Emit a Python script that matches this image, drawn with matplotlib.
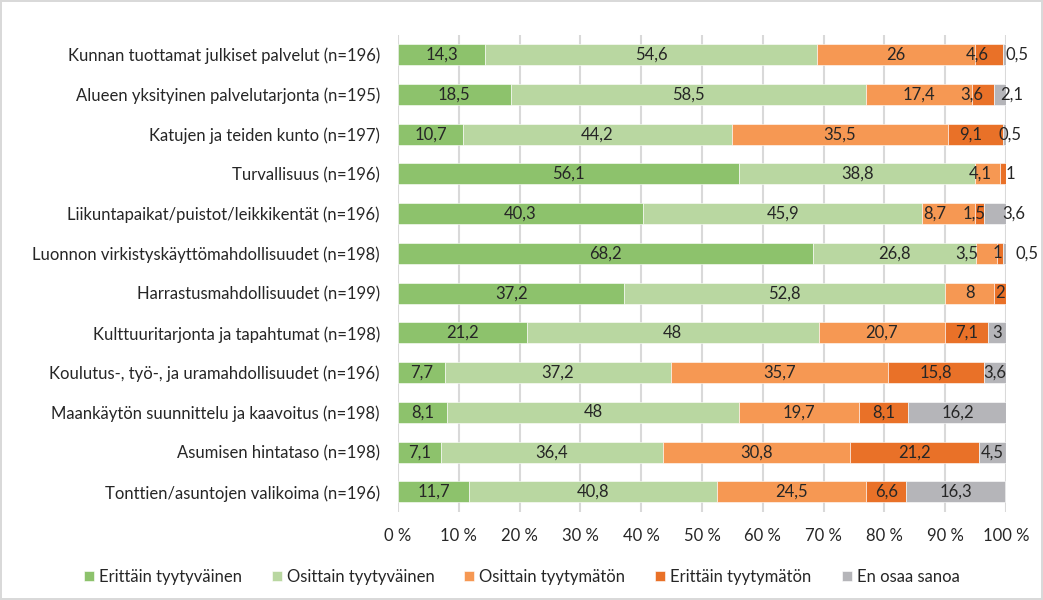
import matplotlib.pyplot as plt
import numpy as np

plt.rcParams["font.family"] = ["Lato", "DejaVu Sans"]

categories = [
    "Kunnan tuottamat julkiset palvelut (n=196)",
    "Alueen yksityinen palvelutarjonta (n=195)",
    "Katujen ja teiden kunto (n=197)",
    "Turvallisuus (n=196)",
    "Liikuntapaikat/puistot/leikkikentät (n=196)",
    "Luonnon virkistyskäyttömahdollisuudet (n=198)",
    "Harrastusmahdollisuudet (n=199)",
    "Kulttuuritarjonta ja tapahtumat (n=198)",
    "Koulutus-, työ-, ja uramahdollisuudet (n=196)",
    "Maankäytön suunnittelu ja kaavoitus (n=198)",
    "Asumisen hintataso (n=198)",
    "Tonttien/asuntojen valikoima (n=196)",
]

series_names = ["Erittäin tyytyväinen", "Osittain tyytyväinen", "Osittain tyytymätön",
                "Erittäin tyytymätön", "En osaa sanoa"]

erittain_tyytyvainen = [14.3, 18.5, 10.7, 56.1, 40.3, 68.2, 37.2, 21.2, 7.7, 8.1, 7.1, 11.7]
osittain_tyytyvainen = [54.6, 58.5, 44.2, 38.8, 45.9, 26.8, 52.8, 48, 37.2, 48, 36.4, 40.8]
osittain_tyytymaton = [26, 17.4, 35.5, 4.1, 8.7, 3.5, 8, 20.7, 35.7, 19.7, 30.8, 24.5]
erittain_tyytymaton = [4.6, 3.6, 9.1, 1, 1.5, 1, 2, 7.1, 15.8, 8.1, 21.2, 6.6]
en_osaa_sanoa = [0.5, 2.1, 0.5, 0, 3.6, 0.5, 0, 3, 3.6, 16.2, 4.5, 16.3]

colors = ["#8dc26c", "#b9d7a1", "#f69853", "#e97128", "#b5b5b9"]

series = [erittain_tyytyvainen, osittain_tyytyvainen, osittain_tyytymaton,
          erittain_tyytymaton, en_osaa_sanoa]

fig = plt.figure(figsize=(10.43, 6), dpi=100)
fig.patch.set_edgecolor("#d9d9d9")
fig.patch.set_linewidth(1.5)
ax = fig.add_axes([0.3816, 0.147, 0.583, 0.795])

y = np.arange(len(categories))
left = np.zeros(len(categories))
label_rows = [[] for _ in categories]
for name, vals, col in zip(series_names, series, colors):
    vals = np.array(vals, dtype=float)
    ax.barh(y, vals, left=left, height=0.53, color=col, edgecolor="white",
            linewidth=0.4, label=name, zorder=3)
    for i, v in enumerate(vals):
        if v > 0:
            txt = f"{v:g}".replace(".", ",")
            label_rows[i].append([left[i] + v / 2, txt])
    left += vals

# spread overlapping labels apart (like Excel does)
char_w = 1.5
for i, labs in enumerate(label_rows):
    for _ in range(50):
        moved = False
        for a, b in zip(labs[:-1], labs[1:]):
            need = (len(a[1]) + len(b[1])) * char_w / 2 + 2.0
            gap = b[0] - a[0]
            if gap < need - 1e-6:
                d = (need - gap) / 2
                a[0] -= d
                b[0] += d
                moved = True
        if not moved:
            break
    for xpos, txt in labs:
        ax.text(xpos, i, txt, ha="center", va="center", fontsize=12,
                color="#262626", zorder=4)

ax.set_xlim(0, 100)
ax.set_ylim(len(categories) - 0.5, -0.5)
ax.set_yticks(y)
ax.set_yticklabels(categories, fontsize=12, color="#262626")
ax.set_xticks(np.arange(0, 101, 10))
ax.set_xticklabels([f"{t} %" for t in range(0, 101, 10)], fontsize=12, color="#262626")
ax.tick_params(length=0)
ax.tick_params(axis="y", pad=13)
ax.tick_params(axis="x", pad=12)
ax.grid(axis="x", color="#d9d9d9", linewidth=1.5, zorder=0)
for s in ax.spines.values():
    s.set_visible(False)

fig.legend(loc="lower center", bbox_to_anchor=(0.5, 0.0), ncol=5, frameon=False,
           fontsize=12, handlelength=0.6, handleheight=0.6, handletextpad=0.3,
           columnspacing=1.8, labelcolor="#262626")

fig.savefig("out.png", dpi=100)
